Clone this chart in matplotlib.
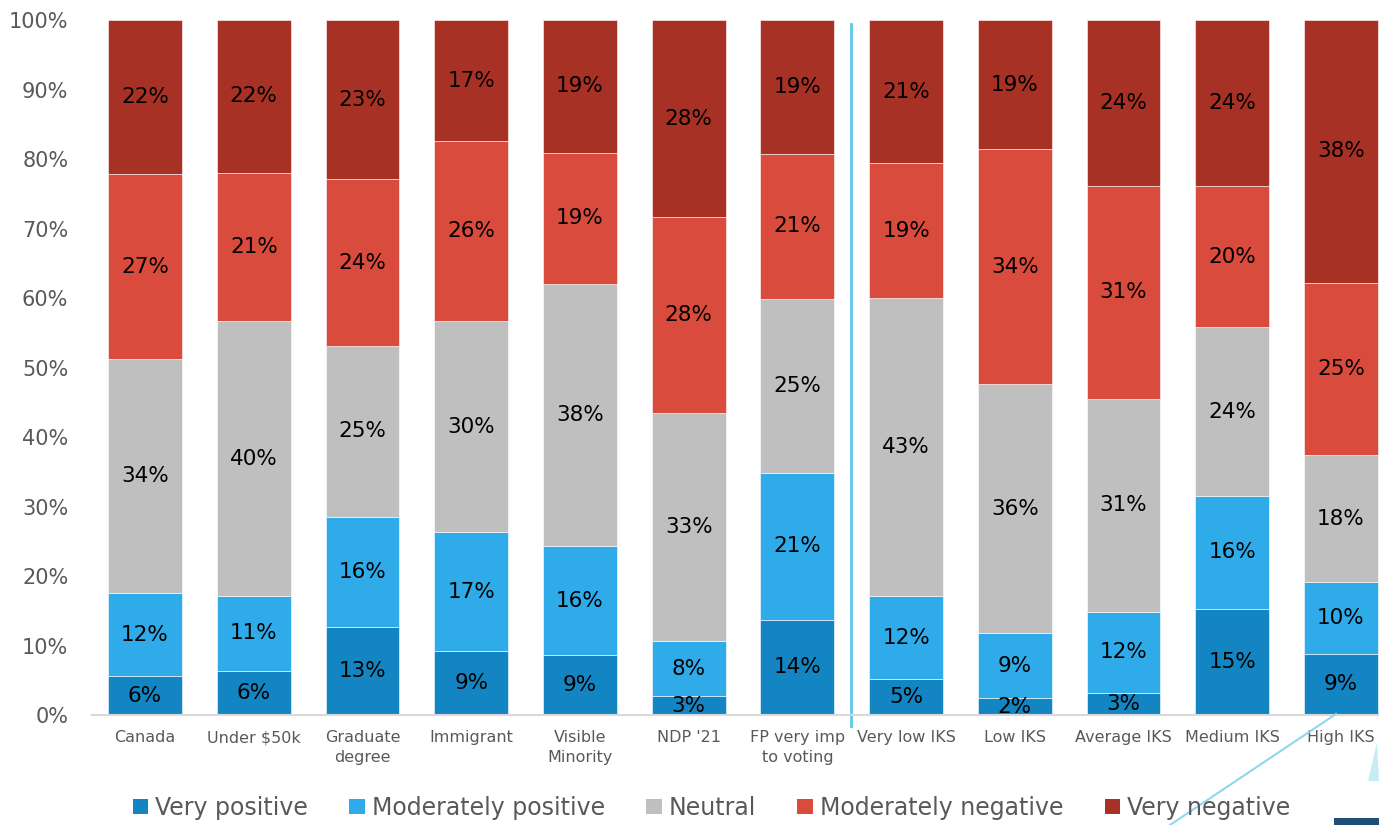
import numpy as np
import matplotlib
matplotlib.use("Agg")
import matplotlib.pyplot as plt
from matplotlib.patches import Patch, Polygon, Rectangle
from matplotlib.lines import Line2D

categories = ["Canada", "Under $50k", "Graduate\ndegree", "Immigrant", "Visible\nMinority",
              "NDP '21", "FP very imp\nto voting", "Very low IKS", "Low IKS", "Average IKS",
              "Medium IKS", "High IKS"]

very_positive = [5.6, 6.4, 12.7, 9.2, 8.6, 2.7, 13.7, 5.2, 2.4, 3.2, 15.3, 8.8]
mod_positive = [11.9, 10.7, 15.8, 17.1, 15.7, 7.9, 21.1, 11.9, 9.4, 11.6, 16.2, 10.3]
neutral = [33.7, 39.6, 24.6, 30.4, 37.7, 32.9, 25.1, 42.9, 35.8, 30.7, 24.3, 18.3]
mod_negative = [26.6, 21.3, 24.0, 25.9, 18.9, 28.1, 20.8, 19.4, 33.8, 30.6, 20.3, 24.8]
very_negative = [22.2, 22.0, 22.9, 17.4, 19.1, 28.4, 19.3, 20.6, 18.6, 23.9, 23.9, 37.8]

series = ["Very positive", "Moderately positive", "Neutral", "Moderately negative", "Very negative"]
colors = ["#1385c3", "#2fabea", "#bfbfbf", "#d84b3d", "#a83125"]

plt.rcParams['font.family'] = ['DejaVu Sans']

fig = plt.figure(figsize=(13.79, 8.25), dpi=100)
ax = fig.add_axes([0.0667, 0.1333, 0.9333, 0.8424])

x = np.arange(len(categories))
bottom = np.zeros(len(categories))
for name, vals, col in zip(series, [very_positive, mod_positive, neutral, mod_negative, very_negative], colors):
    vals = np.array(vals)
    ax.bar(x, vals, 0.68, bottom=bottom, color=col, edgecolor="#ffffff", linewidth=0.4, label=name)
    for xi, b, v in zip(x, bottom, vals):
        ax.text(xi, b + v / 2, f"{v:.0f}%", ha="center", va="center", fontsize=15.5, color="black")
    bottom += vals

ax.set_xlim(-0.488, 11.35)
ax.set_ylim(0, 100)
ax.set_yticks(np.arange(0, 101, 10))
ax.set_yticklabels([f"{t}%" for t in range(0, 101, 10)], fontsize=15, color="#595959")
ax.set_xticks(x)
ax.set_xticklabels(categories, fontsize=11.5, color="#595959", linespacing=1.35)
ax.tick_params(axis="y", length=0, pad=17)
ax.tick_params(axis="x", length=0, pad=11)
for s in ["top", "right", "left"]:
    ax.spines[s].set_visible(False)
ax.spines["bottom"].set_color("#d9d9d9")
ax.spines["bottom"].set_linewidth(1.5)

# separator line between groups
ax.add_line(Line2D([6.495, 6.495], [-0.016, 0.995], transform=ax.get_xaxis_transform(),
                   color="#5bc8ef", linewidth=2, clip_on=False))

handles = [Patch(facecolor=c, edgecolor="none") for c in colors]
fig.legend(handles, series, loc="center", bbox_to_anchor=(0.516, 0.021), ncol=5, frameon=False,
           fontsize=17, labelcolor="#595959", handlelength=0.65, handleheight=0.65,
           handletextpad=0.3, columnspacing=1.75)

# stray slide decorations at lower right
W, H = 1379, 825
fig.add_artist(Line2D([1336 / W, 1170 / W], [1 - 714 / H, 0], color="#8fd6f2", linewidth=1.5))
fig.add_artist(Polygon([(1377 / W, 1 - 742 / H), (1368 / W, 1 - 781 / H), (1 / 1, 1 - 781 / H)],
                       closed=True, facecolor="#c7ecf8", edgecolor="none"))
fig.add_artist(Rectangle((1334 / W, 0), 45 / W, 7 / H, facecolor="#1f4e79", edgecolor="none"))

fig.savefig("out.png", dpi=100)
